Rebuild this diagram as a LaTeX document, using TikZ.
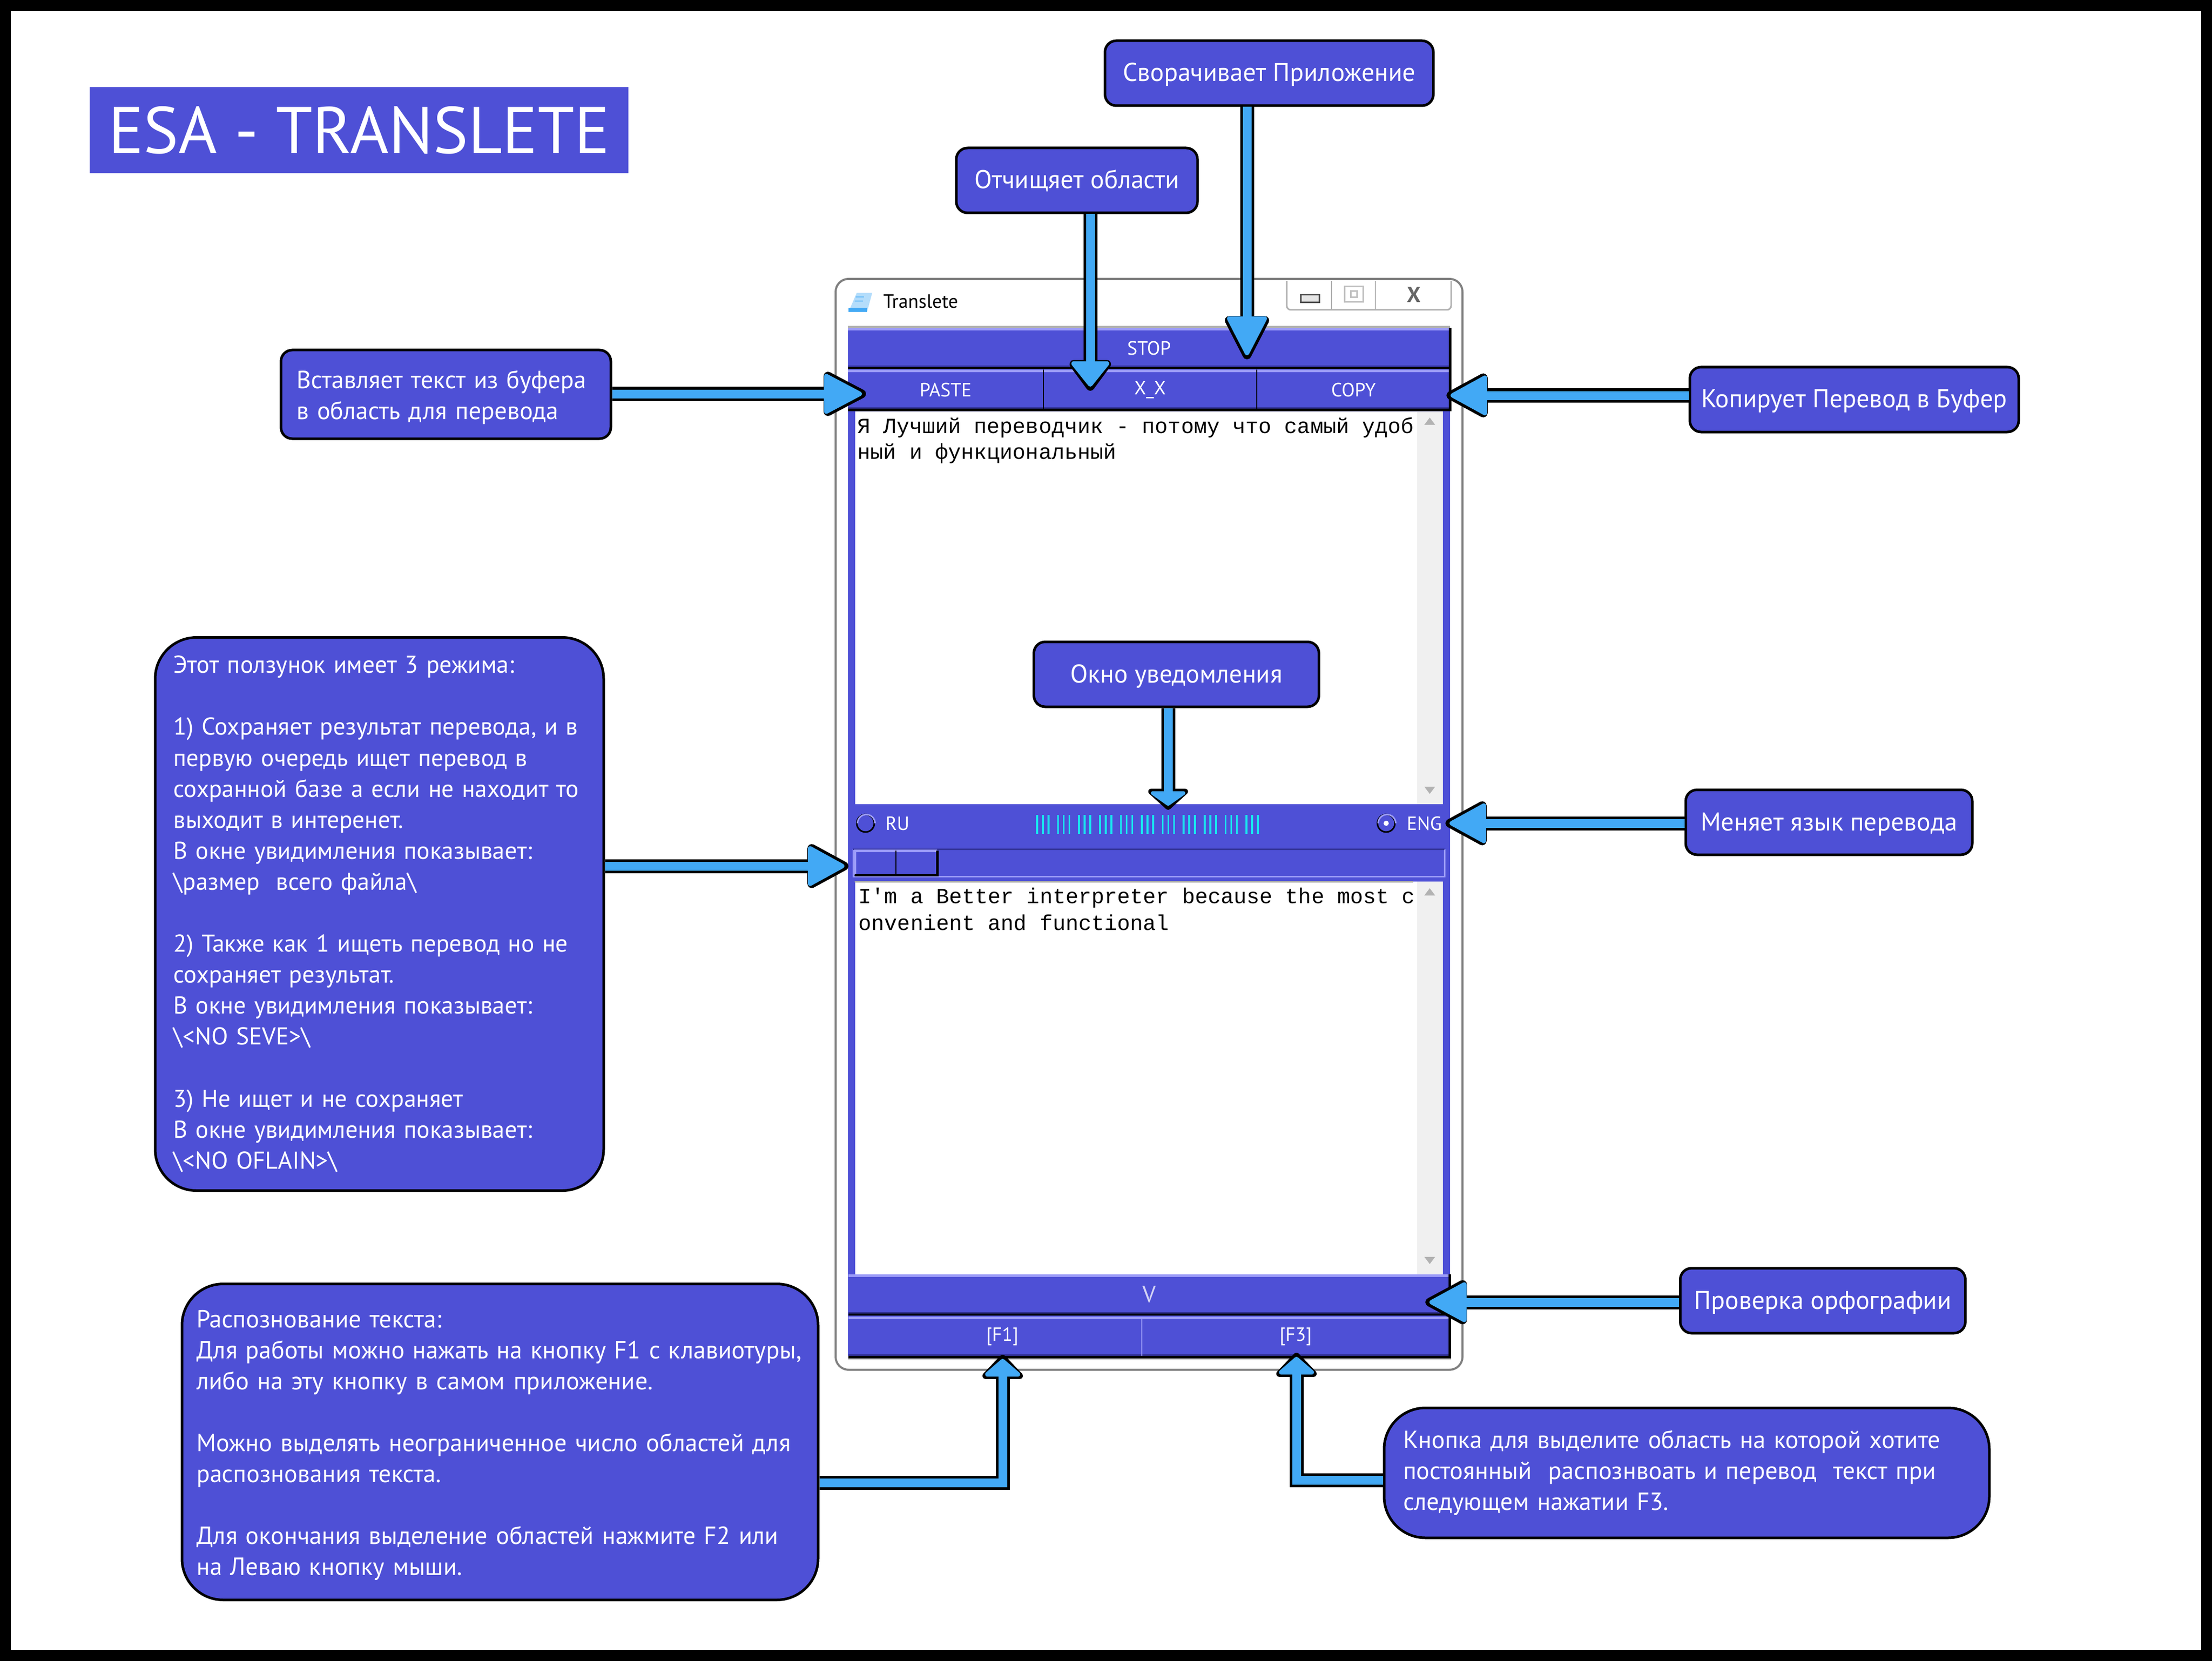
\documentclass[tikz,border=0pt]{standalone}
\usepackage{fontspec}
\setmainfont{PT Sans}
\setmonofont{Liberation Mono}
\usepackage{xcolor}
\usetikzlibrary{positioning,arrows.meta,calc}
\definecolor{panelblue}{HTML}{4E50D6}
\definecolor{arrowblue}{HTML}{42A9F5}
\definecolor{hiliteblue}{HTML}{9C9CF8}
\definecolor{shadeblue}{HTML}{33339A}
\definecolor{scrollgray}{HTML}{F0F0F0}
\definecolor{barcyan}{HTML}{19E6F0}

\begin{document}
\begin{tikzpicture}[
    y=-1cm,
    callbox/.style={rectangle, draw=black, line width=0.05cm, fill=panelblue, rounded corners=0.22cm, text=white,
        inner sep=0pt, align=left, font=\fontsize{13.7}{17.1}\selectfont},
    singlebox/.style={callbox, align=center, minimum height=1.26cm, text height=0.40cm, text depth=0.08cm,
        font=\fontsize{14.2}{17.1}\selectfont},
    bigbox/.style={callbox, rounded corners=0.8cm},
    callarrow/.style 2 args={
        preaction={draw=black, line width=0.27cm, shorten >=0pt,
            -{Triangle[round, length=#1, width=0.92cm, fill=black, color=black, line width=0.17cm]}},
        draw=arrowblue, line width=0.17cm, shorten >=0.08cm,
        -{Triangle[round, length=#2, width=0.81cm, fill=arrowblue, color=arrowblue, line width=0.09cm]}},
    winbtn/.style={rectangle, fill=panelblue, inner sep=0pt, outer sep=0pt, text=white, font=\fontsize{10.6}{12}\selectfont},
    monotext/.style={inner sep=0pt, anchor=west, font=\fontsize{11.9}{13}\ttfamily\selectfont},
    editarea/.style={rectangle, fill=white, inner sep=0pt, anchor=north west},
    scrollarea/.style={rectangle, fill=scrollgray, inner sep=0pt, anchor=north west},
    radio/.style={circle, draw=black, line width=0.03cm, minimum size=0.34cm, inner sep=0pt}
]
\useasboundingbox (0,0) rectangle (42.91,32.22);
% Frame
\fill[white] (0,0) rectangle (42.91,32.22);
\draw[line width=0.21cm] (0.105,0.105) rectangle (42.805,32.115);

% Title
\node[rectangle, fill=panelblue, text=white, minimum width=10.45cm, minimum height=1.67cm, inner sep=0pt,
    font=\fontsize{36.4}{40}\selectfont] (title) at (6.965,2.525) {ESA - TRANSLETE};

% Window
\node[rectangle, draw=gray, line width=0.04cm, fill=white, rounded corners=0.25cm, minimum width=12.16cm,
    minimum height=21.16cm, inner sep=0pt] (win) at (22.29,15.99) {};
\node[inner sep=0pt, font=\fontsize{10.6}{12}\selectfont] (wintitle) at (17.86,5.85) {Translete};
\fill[arrowblue!40] (16.62,5.68) -- (16.92,5.68) -- (16.82,6.05) -- (16.46,6.05) -- cycle;
\fill[arrowblue] (16.46,5.97) rectangle (16.82,6.05);
\draw[arrowblue!80, line width=0.02cm] (16.60,5.76) -- (16.76,5.76) (16.58,5.84) -- (16.74,5.84);
\draw[gray!60, line width=0.03cm, rounded corners=0.08cm] (24.96,5.45) -- (24.96,6.01) -- (28.15,6.01) -- (28.15,5.45);
\draw[gray!60, line width=0.02cm] (25.83,5.45) -- (25.83,6.01) (26.68,5.45) -- (26.68,6.01);
\draw[fill=gray!20, draw=black!70, line width=0.03cm] (25.23,5.72) rectangle (25.59,5.87);
\draw[draw=gray!50, line width=0.03cm] (26.08,5.56) rectangle (26.44,5.86);
\draw[draw=gray!50, line width=0.03cm] (26.20,5.65) rectangle (26.32,5.77);
\node[inner sep=0pt, text=gray!80!black, font=\fontsize{12}{12}\bfseries\selectfont] (winclose) at (27.43,5.72) {X};

% Panel
\fill[gray!60] (16.45,6.32) rectangle (28.13,6.36);
\fill[panelblue] (16.45,6.36) rectangle (28.13,26.30);
\fill[gray!60] (16.45,26.30) rectangle (28.15,26.37);
\node[winbtn, anchor=north west, minimum width=11.68cm, minimum height=0.78cm] (stopbtn) at (16.45,6.36) {STOP};
\node[winbtn, anchor=north west, minimum width=3.79cm, minimum height=0.78cm] (pastebtn) at (16.45,7.17) {PASTE};
\node[winbtn, right=0pt of pastebtn, minimum width=4.14cm, minimum height=0.78cm] (clearbtn) {X\_X};
\node[winbtn, right=0pt of clearbtn, minimum width=3.75cm, minimum height=0.78cm] (copybtn) {COPY};
\node[winbtn, anchor=north west, minimum width=11.66cm, minimum height=0.78cm, font=\fontsize{13}{14}\selectfont, text=white!75!panelblue] (vbtn) at (16.46,24.72) {V};
\node[winbtn, anchor=north west, minimum width=5.69cm, minimum height=0.78cm] (f1btn) at (16.46,25.54) {\hspace*{0.28cm}[F1]};
\node[winbtn, right=0pt of f1btn, minimum width=5.97cm, minimum height=0.78cm] (f3btn) {[F3]};
\foreach \btn in {stopbtn,pastebtn,clearbtn,copybtn,vbtn,f1btn,f3btn} {
    \draw[hiliteblue, line width=0.05cm] ($(\btn.north west)+(0,0.025)$) -- ($(\btn.north east)+(0,0.025)$);
    \draw[shadeblue, line width=0.04cm] ($(\btn.south west)+(0,-0.03)$) -- ($(\btn.south east)+(0,-0.03)$);
}
\draw[black, line width=0.04cm] (stopbtn.south west) -- (stopbtn.south east);
\draw[black, line width=0.02cm] (pastebtn.north east) -- (pastebtn.south east);
\draw[black, line width=0.02cm] (clearbtn.north east) -- (clearbtn.south east);
\draw[black, line width=0.05cm] (stopbtn.north east) -- (copybtn.south east) -- (pastebtn.south west);
\draw[black, line width=0.04cm] (vbtn.south west) -- (vbtn.south east);
\draw[hiliteblue, line width=0.02cm] (f1btn.north east) -- (f1btn.south east);
\draw[black, line width=0.05cm] (vbtn.north east) -- (f3btn.south east) -- (f1btn.south west);

% Text areas
\node[editarea, minimum width=11.40cm, minimum height=7.62cm] (srcarea) at (16.58,7.97) {};
\node[scrollarea, minimum width=0.50cm, minimum height=7.62cm] (srcscroll) at (27.48,7.97) {};
\node[editarea, minimum width=11.40cm, minimum height=7.62cm] (dstarea) at (16.58,17.09) {};
\node[scrollarea, minimum width=0.50cm, minimum height=7.62cm] (dstscroll) at (27.48,17.09) {};
\fill[gray!70] (16.58,17.09) rectangle (27.41,17.12);
\foreach \y in {8.24,17.37} \fill[gray!60] (27.63,\y) -- (27.84,\y) -- (27.735,\y-0.14) -- cycle;
\foreach \y in {15.26,24.38} \fill[gray!60] (27.63,\y) -- (27.84,\y) -- (27.735,\y+0.14) -- cycle;
\node[monotext] (srcline1) at (16.63,8.30) {Я Лучший переводчик - потому что самый удоб};
\node[monotext] (srcline2) at (16.63,8.80) {ный и функциональный};
\node[monotext] (dstline1) at (16.65,17.42) {I'm a Better interpreter because the most c};
\node[monotext] (dstline2) at (16.65,17.90) {onvenient and functional};

% Language row
\node[radio] (ruradio) at (16.79,15.97) {};
\node[radio] (engradio) at (26.89,15.97) {};
\fill[white] (engradio) circle (0.05);
\draw[hiliteblue, line width=0.03cm] (ruradio.east) arc (0:-180:0.17);
\draw[hiliteblue, line width=0.03cm] (engradio.east) arc (0:-180:0.17);
\node[winbtn, fill=none] (rulabel) at (17.41,15.97) {RU};
\node[winbtn, fill=none] (englabel) at (27.63,15.97) {ENG};
\foreach \i in {0,...,10} \foreach \j in {0,1,2}
    \draw[barcyan, line width=0.035cm] (20.12+0.406*\i+0.11*\j,15.81) -- (20.12+0.406*\i+0.11*\j,16.18);

% Slider
\node[rectangle, fill=panelblue, anchor=north west, minimum width=11.46cm, minimum height=0.52cm, inner sep=0pt] (track) at (16.55,16.47) {};
\draw[hiliteblue, line width=0.03cm] (track.north east) -- (track.south east) -- (track.south west) -- (track.north west);
\draw[shadeblue, line width=0.03cm] (track.north west) -- (track.north east);
\node[rectangle, fill=panelblue, anchor=north west, minimum width=1.59cm, minimum height=0.46cm, inner sep=0pt] (thumb) at (16.58,16.50) {};
\draw[hiliteblue, line width=0.05cm] (thumb.south west) -- (thumb.north west) -- (thumb.north east);
\draw[black, line width=0.05cm] (thumb.north east) -- (thumb.south east) -- (thumb.south west);
\draw[black, line width=0.02cm] (thumb.north) -- (thumb.south);

% Callouts
\node[singlebox, minimum width=6.37cm] (appbox) at (24.62,1.42) {Сворачивает Приложение};
\node[singlebox, minimum width=4.68cm] (clearbox) at (20.89,3.50) {Отчищяет области};
\node[callbox, minimum width=6.40cm, minimum height=1.72cm, text width=5.80cm] (pastebox) at (8.65,7.65) {\rule{0pt}{0.47cm}Вставляет текст из буфера\\в область для перевода};
\node[singlebox, minimum width=6.38cm] (copybox) at (35.97,7.75) {Копирует Перевод в Буфер};
\node[bigbox, minimum width=8.70cm, minimum height=10.73cm, text width=7.99cm, font=\fontsize{13.45}{17.1}\selectfont] (modebox) at (7.36,17.73) {Этот ползунок имеет 3 режима:\\ ~\\1) Сохраняет результат перевода, и в\\первую очередь ищет перевод в\\сохранной базе а если не находит то\\выходит в интеренет.\\В окне увидимления показывает:\\\textbackslash размер\ \ всего файла\textbackslash\\ ~\\2) Также как 1 ищеть перевод но не\\сохраняет результат.\\В окне увидимления показывает:\\\textbackslash<NO SEVE>\textbackslash\\ ~\\3) Не ищет и не сохраняет\\В окне увидимления показывает:\\\textbackslash<NO OFLAIN>\textbackslash};
\node[singlebox, minimum width=5.53cm] (notebox) at (22.82,13.08) {Окно уведомления};
\node[singlebox, minimum width=5.56cm] (langbox) at (35.48,15.95) {Меняет язык перевода};
\node[singlebox, minimum width=5.53cm] (spellbox) at (35.36,25.23) {Проверка орфографии};
\node[bigbox, minimum width=12.34cm, minimum height=6.13cm, text width=11.78cm] (recogbox) at (9.70,27.97) {\rule{0pt}{0.47cm}Распознование текста:\\Для работы можно нажать на кнопку F1 с клавиотуры,\\либо на эту кнопку в самом приложение.\\ ~\\Можно выделять неограниченное число областей для\\распознования текста.\\ ~\\Для окончания выделение областей нажмите F2 или\\на Леваю кнопку мыши.};
\node[bigbox, minimum width=11.74cm, minimum height=2.52cm, text width=11.00cm] (scanbox) at (32.72,28.57) {Кнопка для выделите область на которой хотите\\постоянный\ \ распознвоать и перевод\ \ текст при\\следующем нажатии F3.};

% Arrows
\coordinate (apptip) at (24.19,6.97);
\coordinate (cleartip) at (21.15,7.58);
\coordinate (pastetip) at (16.80,7.64);
\coordinate (copytip) at (28.06,7.67);
\coordinate (slidertip) at (16.46,16.80);
\coordinate (notetip) at (22.66,15.71);
\coordinate (langtip) at (28.04,15.97);
\coordinate (spelltip) at (27.65,25.26);
\coordinate (f1tip) at (19.45,26.28);
\coordinate (f3tip) at (25.15,26.24);
\draw[callarrow={0.95cm}{0.81cm}] (apptip |- appbox.south) -- (apptip);
\draw[callarrow={0.66cm}{0.52cm}] (cleartip |- clearbox.south) -- (cleartip);
\draw[callarrow={0.93cm}{0.79cm}] (pastetip -| pastebox.east) -- (pastetip);
\draw[callarrow={0.90cm}{0.76cm}] (copytip -| copybox.west) -- (copytip);
\draw[callarrow={0.90cm}{0.76cm}] (slidertip -| modebox.east) -- (slidertip);
\draw[callarrow={0.43cm}{0.29cm}] (notetip |- notebox.south) -- (notetip);
\draw[callarrow={0.90cm}{0.76cm}] (langtip -| langbox.west) -- (langtip);
\draw[callarrow={0.91cm}{0.77cm}] (spelltip -| spellbox.west) -- (spelltip);
\draw[callarrow={0.50cm}{0.36cm}] ($(recogbox.east)+(0,0.79)$) -| (f1tip);
\draw[callarrow={0.50cm}{0.36cm}] ($(scanbox.west)+(0,0.14)$) -| (f3tip);
\end{tikzpicture}
\end{document}
